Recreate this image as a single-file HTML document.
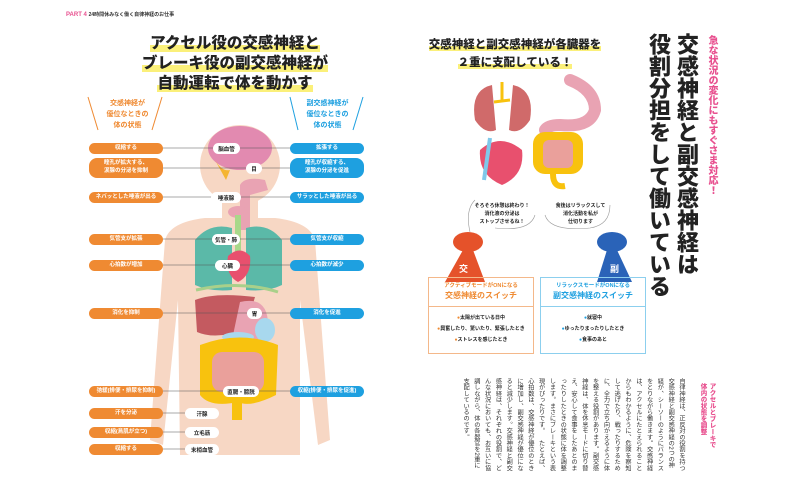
<!DOCTYPE html>
<html><head><meta charset="utf-8"><style>
*{margin:0;padding:0;box-sizing:border-box}
body{width:800px;height:495px;background:#fff;position:relative;overflow:hidden;font-family:"Liberation Sans","Noto Sans CJK JP",sans-serif;color:#222}
.a{position:absolute}
.pill{position:absolute;height:11px;border-radius:6px;color:#fff;font-size:5.5px;font-weight:bold;display:flex;align-items:center;justify-content:center;text-align:center;line-height:1.4}
.o{background:#ef8a32;left:89px;width:74px}
.b{background:#1ea0e0;left:290px;width:74px}
.lab{position:absolute;height:11px;background:#fff;border-radius:6px;font-size:5.5px;font-weight:bold;display:flex;align-items:center;justify-content:center}
.ttl{font-weight:900;font-size:15.5px;text-align:center;line-height:20px;position:absolute}
.hl{background:linear-gradient(transparent 60%,#fbf07a 60%)}
.v{writing-mode:vertical-rl;position:absolute;font-weight:900}
</style></head><body>
<div class="a" style="left:66px;top:11px;font-size:6px;font-weight:bold;color:#e8508f">PART 4 <span style="color:#333;font-size:5px">24時間休みなく働く自律神経のお仕事</span></div>
<div class="ttl" style="left:140px;top:34px;width:190px"><span class="hl">アクセル役の交感神経と</span><br><span class="hl">ブレーキ役の副交感神経が</span><br><span class="hl">自動運転で体を動かす</span></div>
<div class="a" style="left:95px;top:98px;width:65px;text-align:center;font-size:7px;font-weight:bold;color:#ef8a32;line-height:11px">交感神経が<br>優位なときの<br>体の状態</div>
<div class="a" style="left:290px;top:98px;width:75px;text-align:center;font-size:7px;font-weight:bold;color:#1ea0e0;line-height:11px">副交感神経が<br>優位なときの<br>体の状態</div>
<svg class="a" style="left:0;top:0" width="800" height="495">
<g stroke="#ef8a32" stroke-width="1"><line x1="88" y1="97" x2="98" y2="130"/><line x1="162" y1="97" x2="152" y2="130"/></g>
<g stroke="#1ea0e0" stroke-width="1"><line x1="290" y1="97" x2="298" y2="130"/><line x1="363" y1="97" x2="353" y2="130"/></g>
<g fill="#f7d7c4">
<circle cx="240" cy="165" r="40"/>
<rect x="222" y="190" width="36" height="45"/>
<path d="M165 240 Q170 222 205 218 L275 218 Q310 222 315 240 L330 440 L318 445 L300 300 L300 455 L180 455 L178 300 L163 445 L150 440 Z"/>
</g>
<ellipse cx="240" cy="148" rx="32" ry="22" fill="#e28ab0"/>
<path d="M215 160 Q222 172 230 170 L226 180 Z" fill="#f4b533"/>
<path d="M240 185 Q245 176 265 180 L268 190 L250 195 L250 230 L240 230 Z" fill="#e9a3b3"/>
<ellipse cx="238" cy="212" rx="10" ry="6" fill="#e9a3b3"/>
<rect x="235" y="215" width="6" height="60" fill="#a9d88a"/>
<path d="M195 240 Q210 222 232 228 L232 290 Q210 292 195 285 Z" fill="#5bb9a8"/>
<path d="M282 240 Q268 222 246 228 L246 290 Q268 292 282 285 Z" fill="#5bb9a8"/>
<path d="M228 256 Q240 245 250 256 Q252 275 238 282 Q225 275 228 256Z" fill="#e8506e"/>
<path d="M196 290 Q240 280 278 292" stroke="#a9d08a" stroke-width="3" fill="none"/>
<path d="M195 300 Q215 292 255 297 L245 330 Q215 340 197 332 Z" fill="#c45a60"/>
<path d="M240 302 Q270 295 268 330 Q262 345 232 340 Z" fill="#e9a3b3"/>
<ellipse cx="265" cy="330" rx="10" ry="12" fill="#a8d8ee"/>
<ellipse cx="238" cy="337" rx="16" ry="5" fill="#a8d8ee"/>
<path d="M200 345 Q240 330 278 345 L276 395 Q250 408 238 402 Q210 408 200 395 Z" fill="#f8c20e"/>
<rect x="212" y="352" width="52" height="40" rx="10" fill="#eaa09b"/>
<rect x="232" y="400" width="10" height="20" fill="#f8c20e"/>
<g stroke="#555" stroke-width="0.6">
<line x1="163" y1="148" x2="290" y2="148"/><line x1="163" y1="168" x2="290" y2="168"/><line x1="163" y1="197" x2="290" y2="197"/><line x1="163" y1="239" x2="290" y2="239"/><line x1="163" y1="265" x2="290" y2="265"/><line x1="163" y1="313" x2="290" y2="313"/><line x1="163" y1="391" x2="290" y2="391"/>
<line x1="163" y1="413" x2="185" y2="413"/><line x1="163" y1="432" x2="185" y2="432"/><line x1="163" y1="449" x2="185" y2="449"/></g>
<path d="M475 120 Q470 90 492 85 L496 130 Q485 135 475 120Z M530 120 Q535 90 513 85 L509 130 Q520 135 530 120Z" fill="#d06a6a"/>
<path d="M502 82 L502 100 M494 102 L510 100" stroke="#f8c20e" stroke-width="3"/>
<path d="M480 150 Q500 132 522 150 Q525 175 502 185 Q478 175 480 150Z" fill="#e8506e"/>
<path d="M490 138 L484 180" stroke="#7fc8ea" stroke-width="4"/>
<path d="M570 80 Q595 90 595 110 Q590 128 560 125 Q548 125 545 130" stroke="#e9a3b3" stroke-width="12" fill="none" stroke-linecap="round"/>
<rect x="533" y="132" width="50" height="42" rx="12" fill="#f8c20e"/>
<rect x="543" y="140" width="30" height="28" rx="6" fill="#eaa09b"/>
<path d="M553 174 Q553 188 565 186" stroke="#f8c20e" stroke-width="6" fill="none"/>
<ellipse cx="468" cy="242" rx="15" ry="10" fill="#e5522a"/>
<path d="M463 250 L473 250 L485 282 L445 282 Z" fill="#e5522a"/>
<ellipse cx="612" cy="242" rx="15" ry="10" fill="#2a63b8"/>
<path d="M607 250 L617 250 L632 282 L597 282 Z" fill="#2a63b8"/>
<path d="M470 232 Q465 210 475 200 M535 215 Q530 232 495 228" stroke="#999" stroke-width="0.6" fill="none"/>
<path d="M545 215 Q550 232 590 228 Q610 225 610 205" stroke="#999" stroke-width="0.6" fill="none"/>
</svg>
<div class="pill o" style="top:143px">収縮する</div>
<div class="pill o" style="top:158px;height:20px;border-radius:8px">瞳孔が拡大する、<br>涙腺の分泌を抑制</div>
<div class="pill o" style="top:192px">ネバッとした唾液が出る</div>
<div class="pill o" style="top:234px">気管支が拡張</div>
<div class="pill o" style="top:260px">心拍数が増加</div>
<div class="pill o" style="top:308px">消化を抑制</div>
<div class="pill o" style="top:386px">弛緩(排便・排尿を抑制)</div>
<div class="pill o" style="top:408px">汗を分泌</div>
<div class="pill o" style="top:427px">収縮(鳥肌が立つ)</div>
<div class="pill o" style="top:444px">収縮する</div>
<div class="pill b" style="top:143px">拡張する</div>
<div class="pill b" style="top:158px;height:20px;border-radius:8px">瞳孔が収縮する、<br>涙腺の分泌を促進</div>
<div class="pill b" style="top:192px">サラッとした唾液が出る</div>
<div class="pill b" style="top:234px">気管支が収縮</div>
<div class="pill b" style="top:260px">心拍数が減少</div>
<div class="pill b" style="top:308px">消化を促進</div>
<div class="pill b" style="top:386px">収縮(排便・排尿を促進)</div>
<div class="lab" style="left:213px;top:143px;width:27px">脳血管</div>
<div class="lab" style="left:246px;top:163px;width:16px">目</div>
<div class="lab" style="left:211px;top:192px;width:30px">唾液腺</div>
<div class="lab" style="left:212px;top:234px;width:28px">気管・肺</div>
<div class="lab" style="left:215px;top:260px;width:25px">心臓</div>
<div class="lab" style="left:247px;top:308px;width:15px">胃</div>
<div class="lab" style="left:223px;top:386px;width:36px">直腸・膀胱</div>
<div class="lab" style="left:185px;top:408px;width:34px">汗腺</div>
<div class="lab" style="left:185px;top:427px;width:34px">立毛筋</div>
<div class="lab" style="left:185px;top:444px;width:34px">末梢血管</div>

<div class="ttl" style="left:420px;top:36px;width:190px;font-size:11.5px;line-height:18px"><span class="hl">交感神経と副交感神経が各臓器を</span><br><span class="hl">２重に支配している！</span></div>
<div class="a" style="left:462px;top:202px;width:80px;text-align:center;font-size:5px;line-height:8px;font-weight:bold">そろそろ休憩は終わり！<br>消化液の分泌は<br>ストップさせるね！</div>
<div class="a" style="left:543px;top:202px;width:75px;text-align:center;font-size:5px;line-height:8px;font-weight:bold">食後はリラックスして<br>消化活動を私が<br>仕切ります</div>
<div class="a" style="left:459px;top:262px;font-size:9px;color:#fff;font-weight:bold">交</div>
<div class="a" style="left:610px;top:262px;font-size:9px;color:#fff;font-weight:bold">副</div>
<div class="a" style="left:428px;top:277px;width:106px;height:77px;border:1.5px solid #f4b88a;text-align:center">
<div style="height:29px;border-bottom:1.5px solid #f4b88a;color:#ef8a32;font-weight:bold;padding-top:4px;font-size:5.5px;line-height:9px">アクティブモードがONになる<br><span style="font-size:8px">交感神経のスイッチ</span></div>
<div style="font-size:5px;font-weight:bold;line-height:11px;padding-top:6px"><span style="color:#ef8a32">●</span>太陽が出ている日中<br><span style="color:#ef8a32">●</span>興奮したり、驚いたり、緊張したとき<br><span style="color:#ef8a32">●</span>ストレスを感じたとき</div></div>
<div class="a" style="left:540px;top:277px;width:106px;height:77px;border:1.5px solid #8ccfee;text-align:center">
<div style="height:29px;border-bottom:1.5px solid #8ccfee;color:#1ea0e0;font-weight:bold;padding-top:4px;font-size:5.5px;line-height:9px">リラックスモードがONになる<br><span style="font-size:8px">副交感神経のスイッチ</span></div>
<div style="font-size:5px;font-weight:bold;line-height:11px;padding-top:6px"><span style="color:#1ea0e0">●</span>就寝中<br><span style="color:#1ea0e0">●</span>ゆったりまったりしたとき<br><span style="color:#1ea0e0">●</span>食事のあと</div></div>

<div class="v" style="left:704px;top:35px;font-size:10px;color:#e8508f;height:170px">急な状況の変化にもすぐさま対応！</div>
<div class="v" style="left:673px;top:33px;font-size:22px;line-height:26px;height:260px">交感神経と副交感神経は</div>
<div class="v" style="left:645px;top:33px;font-size:22px;line-height:26px;height:290px">役割分担をして働いている</div>
<div class="v" style="left:698px;top:383px;font-size:6.5px;color:#e8508f;line-height:9px;height:90px">アクセルとブレーキで<br>体内の状態を調整</div>
<div class="v" style="left:428px;top:378px;width:258px;height:95px;font-size:6.2px;font-weight:normal;line-height:10.8px;color:#333">自律神経は、正反対の役割を持つ交感神経と副交感神経の2つの神経が、シーソーのようにバランスをとりながら働きます。交感神経は、アクセルにたとえられることからもわかるように、危険を察知して逃げたり、戦ったりするために、全力で立ち向かえるように体を整える役割があります。副交感神経は、体を休息モードに切り替え、安心して食事をしたあとのまったりしたときの状態に体を調整します。まさにブレーキという表現がぴったりです。　たとえば、心拍数は、交感神経が優位のときに増加し、副交感神経が優位になると減少します。交感神経と副交感神経は、それぞれの役割で、どんな状況においても、お互いに協調しながら、体の各器官を2重に支配しているのです。</div>
</body></html>
